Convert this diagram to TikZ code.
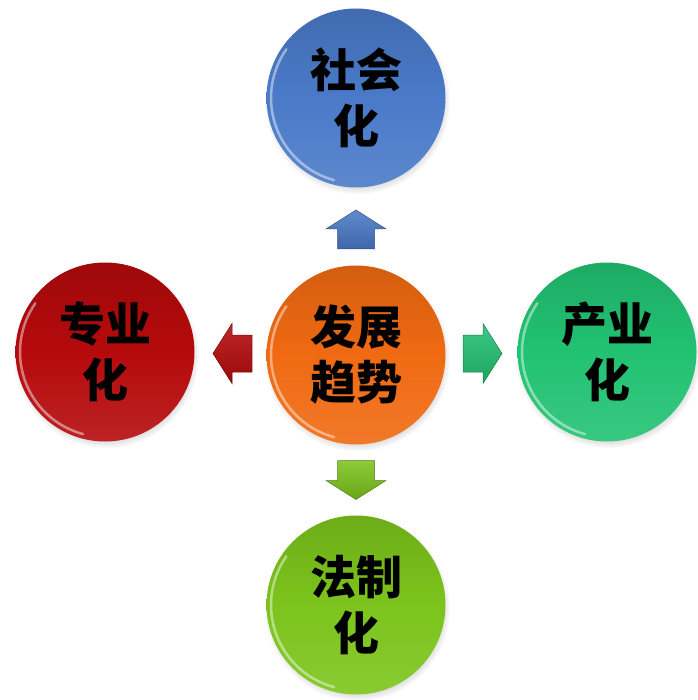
\documentclass[tikz,border=0pt]{standalone}
\usepackage{fontspec}
\newfontfamily\cjk{Noto Sans CJK SC}
\usetikzlibrary{calc,shadows}
\definecolor{cblue}{HTML}{4A7AC8}
\definecolor{corange}{HTML}{F06A12}
\definecolor{cred}{HTML}{B50A0C}
\definecolor{cgreen}{HTML}{22C272}
\definecolor{clime}{HTML}{7CC41C}
\tikzset{
  ball/.style={circle, minimum size=179pt, inner sep=0pt,
    top color=#1!88!black, bottom color=#1!90!white, middle color=#1,
    circular drop shadow={shadow scale=1.04, shadow xshift=1pt, shadow yshift=-3pt, opacity=0.45},
    font=\cjk\bfseries\fontsize{46}{56}\selectfont, align=center, text=black},
  rim/.style={white, opacity=0.45, line width=2.5pt, line cap=round},
  arrowfill/.style={top color=#1!88!white, bottom color=#1!85!black, draw=#1!65!black, line width=0.5pt,
    drop shadow={shadow xshift=1pt, shadow yshift=-1.5pt, opacity=0.35}},
  barrow/.pic={
    \path[pic actions] (-19.5,-18.5) -- (0.5,-18.5) -- (0.5,-30) -- (19.5,0)
      -- (0.5,30) -- (0.5,18.5) -- (-19.5,18.5) -- cycle;
  }
}
\begin{document}
\begin{tikzpicture}[x=1pt,y=-1pt]
\useasboundingbox (0,0) rectangle (697,700);
\node[ball=corange] (c) at (356,355) {发展\\[-1pt]趋势};
\node[ball=cblue]   (t) at (356,98)  {社会\\化};
\node[ball=cred]    (l) at (105,352) {专业\\化};
\node[ball=cgreen]  (r) at (607,352) {产业\\化};
\node[ball=clime]   (b) at (356,605) {法制\\化};
\foreach \n in {c,t,l,r,b}{
  \draw[rim] ($(\n.center)+(105:85)$) arc[start angle=105, end angle=215, radius=85];
}
\coordinate (mt) at ($(c)!0.5!(t)+(0,3)$);
\coordinate (ml) at ($(c)!0.5!(l)+(2,0)$);
\coordinate (mr) at ($(c)!0.5!(r)+(1,0)$);
\coordinate (mb) at ($(c)!0.5!(b)$);
\pic[arrowfill=cblue,  rotate=90]  (at) at (mt) {barrow};
\pic[arrowfill=cred,   rotate=180] (al) at (ml) {barrow};
\pic[arrowfill=cgreen, rotate=0]   (ar) at (mr) {barrow};
\pic[arrowfill=clime,  rotate=-90] (ab) at (mb) {barrow};
\end{tikzpicture}
\end{document}
